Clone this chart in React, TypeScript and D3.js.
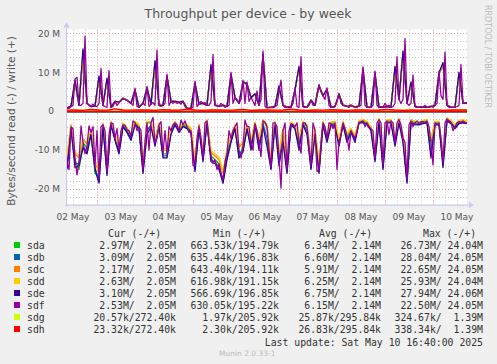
import React from 'react';
import * as d3 from 'd3';

const W = 497;
const H = 364;
const START = Date.UTC(2025, 4, 2, 9);
const END = Date.UTC(2025, 4, 10, 17);

const devices = ['sda', 'sdb', 'sdc', 'sdd', 'sde', 'sdf', 'sdg', 'sdh'];
const colors = ['#00CC00', '#0066B3', '#FF8000', '#FFCC00', '#330099', '#990099', '#CCFF00', '#FF0000'];
const curValues = ['2.97M/  2.05M', '3.09M/  2.05M', '2.17M/  2.05M', '2.63M/  2.05M', '3.10M/  2.05M', '2.53M/  2.05M', '20.57k/272.40k', '23.32k/272.40k'];
const minValues = ['663.53k/194.79k', '635.44k/196.83k', '643.40k/194.11k', '616.98k/191.15k', '566.69k/196.85k', '630.05k/195.22k', '1.97k/205.92k', '2.30k/205.92k'];
const avgValues = ['6.34M/  2.14M', '6.60M/  2.14M', '5.91M/  2.14M', '6.25M/  2.14M', '6.75M/  2.14M', '6.15M/  2.14M', '25.87k/295.84k', '26.83k/295.84k'];
const maxValues = ['26.73M/ 24.04M', '28.04M/ 24.05M', '22.65M/ 24.05M', '25.93M/ 24.04M', '27.94M/ 24.06M', '22.50M/ 24.05M', '324.67k/  1.39M', '338.34k/  1.39M'];
const yTicksMajor = [-20, -10, 0, 10, 20];

// values in M bytes/s; sdf hourly, sda..sde every 2h, sdg/sdh coarser
const sdfWrite = [
  0.8, 0.7, 1.2, 1.5, 8.3, 8.7, 1.5, 1.5, 2, 19.3,
  2, 1.5, 1.2, 1.8, 1.3, 1.2, 2, 11, 1.5, 1.2,
  1, 10.4, 1, 1.2, 2.5, 1.5, 2.2, 2.8, 3.3, 3,
  2.8, 2.5, 2, 1.5, 5.9, 1.2, 1, 1.5, 2, 1.5,
  6.4, 1.2, 1.8, 2.2, 1.5, 15.7, 1.5, 1.2, 1.5, 2,
  9.5, 1.5, 2.5, 2, 2.5, 2, 2.3, 1.8, 2.5, 1.2,
  0.7, 0.6, 0.8, 1, 7.7, 1.2, 1.8, 2.5, 2, 2.2,
  1.5, 1.5, 2.5, 14.6, 1.5, 1.5, 1.2, 2, 1.5, 1,
  1.2, 1.5, 10, 2, 3.5, 3, 2, 3, 8, 2,
  7.5, 2.5, 3.6, 2.5, 1.5, 5.2, 1.5, 3, 15.5, 1.2,
  0.9, 0.9, 1, 0.9, 1.2, 1.5, 5, 8, 1.5, 1,
  1, 1.2, 1, 2, 5.9, 1.2, 1, 14, 1.2, 1,
  1, 1.5, 2.8, 1.5, 1.5, 4.5, 6.9, 5, 4, 3,
  6, 1.5, 1, 1, 1.2, 2.5, 4.6, 2, 1.5, 1.5,
  1.2, 1, 1.5, 1.2, 1, 1, 1.3, 1.5, 11.4, 1.5,
  1, 1, 1, 1.5, 10.3, 1.5, 1, 1.2, 1, 2,
  1.2, 1.5, 1, 1.2, 2, 14, 3, 2, 3, 18.7,
  2, 1.5, 2, 9.3, 1.2, 1, 1, 1.2, 1, 1.5,
  1, 1, 1.2, 1, 1.5, 2, 10.3, 4, 3, 15.2,
  1.5, 1, 1, 1, 1, 1.2, 1.5, 12, 2, 2.2,
  2.1,
];
const sdfRead = [
  -13, -15, -4, -4.5, -12, -16.4, -13, -3.8, -8, -10.9,
  -9, -3.8, -5.5, -4, -14, -5, -17.3, -4, -3.5, -5,
  -15.5, -6, -3, -3.2, -7, -4.5, -10, -5, -3.5, -3.6,
  -4.8, -5, -6.5, -2.5, -3, -5, -4, -5, -15, -8,
  -3, -10, -3, -1.6, -8, -7, -3.5, -2.7, -11, -5,
  -11, -4, -5, -3.5, -3, -3.5, -5, -2.3, -3.5, -2.5,
  -4, -5.5, -5, -14, -14, -7, -3.8, -7, -12, -3,
  -2.5, -8, -11.5, -13.5, -12.5, -15, -13.5, -16, -17.5, -13,
  -11, -5, -7, -5, -4, -3, -10, -12, -9, -2.3,
  -4, -4, -8.3, -10, -3.2, -5, -8, -11.7, -2.5, -2.8,
  -4, -10, -14.3, -3, -3, -4, -12, -19.8, -5, -3,
  -15, -5, -3.2, -3.5, -4, -3, -8, -10.8, -3, -3,
  -4, -9, -13.8, -3, -5, -15.5, -15, -8, -3, -4,
  -7, -3, -3.2, -4.5, -3, -15, -8, -6, -3, -4.5,
  -6.5, -10, -5, -6, -7, -5, -2.8, -2.8, -2.5, -4,
  -3, -4, -4.5, -5, -12, -3, -2.2, -3, -13.8, -3,
  -2.5, -6, -2.5, -3, -8, -3, -2.2, -3.5, -7, -8,
  -17.7, -3.5, -2.5, -4, -3, -2.5, -3.2, -2.7, -2.7, -3,
  -2.5, -4, -8, -13.8, -3, -3.5, -3, -7, -13, -3,
  -2, -2.5, -2.8, -5, -4, -3, -2.7, -3, -2.5, -3,
  -3,
];

const sdaWrite = [0.9, 1.2, 7.5, 1.6, 14, 2.1, 1.3, 1.4, 8.5, 1.6, 8, 1.1, 2.6, 2.2, 3.4, 2.9, 2.1, 5.2, 1.1, 2.1, 5.8, 1.9, 12, 1.6, 1.6, 8.6, 2.6, 2.4, 2.4, 2.6, 0.8, 0.9, 7, 1.9, 2.1, 1.6, 11, 1.6, 1.3, 1.6, 1.3, 9, 3.4, 2.1, 7.2, 6.8, 3.4, 4.2, 1.6, 13.8, 1, 1.1, 1.3, 6, 1.6, 1.1, 1.1, 5.3, 11, 1.3, 1.1, 2.9, 1.6, 6.2, 3.9, 5.4, 1.1, 1.3, 4.1, 1.6, 1.3, 1.6, 1.1, 1.4, 10.2, 1.1, 1.1, 9.3, 1.1, 1.1, 1.3, 1.1, 11, 3.1, 14.5, 2.1, 7.2, 1.3, 1.1, 1.1, 1.1, 1.3, 1.6, 9.4, 12, 1.6, 1.1, 1.1, 9.5, 2.1, 2.2];
const sdbWrite = [0.8, 1.2, 7.8, 1.5, 15.5, 2, 1.2, 1.3, 8.8, 1.5, 8.2, 1, 2.5, 2.2, 3.3, 2.8, 2, 5.6, 1, 2, 6.1, 1.8, 12.5, 1.5, 1.5, 9.1, 2.5, 2.5, 2.3, 2.5, 0.7, 0.8, 7.4, 1.8, 2, 1.5, 11.6, 1.5, 1.2, 1.5, 1.2, 9.6, 3.5, 2, 7.6, 7.1, 3.5, 4.4, 1.5, 14.8, 0.9, 1, 1.2, 6.3, 1.5, 1, 1, 5.6, 11.2, 1.2, 1, 2.8, 1.5, 6.6, 4, 5.7, 1, 1.2, 4.4, 1.5, 1.2, 1.5, 1, 1.3, 11, 1, 1, 9.9, 1, 1, 1.2, 1, 11.2, 3, 15, 2, 7.3, 1.2, 1, 1, 1, 1.2, 1.5, 9.9, 12.2, 1.5, 1, 1, 9.8, 2, 2.1];
const sdcWrite = [0.9, 1.3, 7.2, 1.6, 14.5, 2.1, 1.3, 1.4, 8.6, 1.6, 7.9, 1.1, 2.6, 2.3, 3.3, 2.9, 2.1, 5.3, 1.1, 2.1, 5.9, 1.9, 12.2, 1.6, 1.6, 8.8, 2.6, 2.6, 2.4, 2.6, 0.8, 0.9, 7.1, 1.9, 2.1, 1.6, 11.2, 1.6, 1.3, 1.6, 1.3, 9.2, 3.6, 2.1, 7.3, 6.9, 3.6, 4.3, 1.6, 14, 1, 1.1, 1.3, 6.1, 1.6, 1.1, 1.1, 5.4, 10.8, 1.3, 1.1, 2.9, 1.6, 6.4, 4.1, 5.5, 1.1, 1.3, 4.2, 1.6, 1.3, 1.6, 1.1, 1.4, 10.5, 1.1, 1.1, 9.5, 1.1, 1.1, 1.3, 1.1, 10.8, 3.1, 14.8, 2.1, 7.1, 1.3, 1.1, 1.1, 1.1, 1.3, 1.6, 9.6, 11.8, 1.6, 1.1, 1.1, 9.6, 2.1, 2.2];
const sddWrite = [0.8, 1.2, 7.6, 1.5, 15, 2, 1.2, 1.3, 8.7, 1.5, 8.1, 1, 2.5, 2.2, 3.2, 2.8, 2, 5.4, 1, 2, 6, 1.8, 12.8, 1.5, 1.5, 8.9, 2.5, 2.5, 2.3, 2.5, 0.7, 0.8, 7.3, 1.8, 2, 1.5, 11.8, 1.5, 1.2, 1.5, 1.2, 9.4, 3.5, 2, 7.4, 7, 3.5, 4.4, 1.5, 14.2, 0.9, 1, 1.2, 6.4, 1.5, 1, 1, 5.5, 11.3, 1.2, 1, 2.8, 1.5, 6.5, 4, 5.6, 1, 1.2, 4.3, 1.5, 1.2, 1.5, 1, 1.3, 10.7, 1, 1, 9.7, 1, 1, 1.2, 1, 11.3, 3, 15.2, 2, 7.4, 1.2, 1, 1, 1, 1.2, 1.5, 9.7, 12.3, 1.5, 1, 1, 9.9, 2, 2.1];
const sdeWrite = [0.8, 1.3, 8.0, 1.5, 16, 2, 1.2, 1.3, 9, 1.5, 8.5, 1, 2.5, 2.3, 3.2, 2.8, 2, 5.5, 1, 2, 6, 1.8, 13, 1.5, 1.5, 9, 2.5, 2.5, 2.3, 2.5, 0.7, 0.8, 7.2, 1.8, 2, 1.5, 12, 1.5, 1.2, 1.5, 1.2, 9.5, 3.5, 2, 7.5, 7, 3.5, 4.5, 1.5, 14.5, 0.9, 1, 1.2, 6.5, 1.5, 1, 1, 5.5, 11.5, 1.2, 1, 2.8, 1.5, 6.5, 4, 5.6, 1, 1.2, 4.3, 1.5, 1.2, 1.5, 1, 1.3, 10.8, 1, 1, 9.8, 1, 1, 1.2, 1, 11.5, 3, 15.5, 2, 7.5, 1.2, 1, 1, 1, 1.2, 1.5, 9.8, 12.5, 1.5, 1, 1, 10, 2, 2.1];

const sdaRead = [-13.5, -4, -12.5, -15, -8, -9.5, -5.5, -16, -17, -3.5, -15.5, -3, -7, -10, -3.5, -4.8, -6.5, -3, -4, -15, -3, -3, -8, -3.5, -11, -11, -5, -3, -5, -3.5, -4, -5, -14, -3.8, -12, -2.5, -11.5, -12.5, -13.5, -18.5, -11, -7, -4, -12, -9, -4, -8.3, -3.2, -8, -2.5, -4, -14.3, -3, -12, -5, -15, -3.2, -4, -8, -3, -4, -13.8, -5, -15, -3, -7, -3.2, -3, -8, -3, -6.5, -5, -7, -2.8, -2.5, -3, -4.5, -12, -2.2, -13.8, -2.5, -2.5, -8, -2.2, -7, -17.7, -2.5, -3, -3.2, -2.7, -2.5, -8, -3, -3, -13, -2, -2.8, -4, -2.7, -2.5, -3];
const sdbRead = [-14.5, -4.3, -13.5, -13.5, -9, -10.5, -5.8, -14.5, -18, -3.8, -16, -3.3, -7.3, -10.5, -3.8, -5.2, -7, -3.3, -4.3, -15.5, -5, -3.5, -8.5, -3.8, -11.5, -11.5, -5.5, -3.3, -5.3, -3.8, -4.3, -5.3, -15, -4.2, -12.5, -2.8, -12.5, -13, -14.5, -18, -12, -7.5, -4.3, -11, -10, -4.3, -9, -3.4, -9, -3.2, -7, -14.7, -3.3, -13, -5.5, -15.5, -3.4, -4.3, -9, -3.3, -5, -14.5, -5.5, -15.5, -3.3, -7.5, -3.4, -3.5, -8.5, -3.3, -7.3, -5.3, -7.5, -3, -2.8, -3.3, -4.8, -12.5, -2.5, -14.5, -2.8, -2.8, -8.5, -2.6, -7.5, -18, -2.8, -3.3, -3.4, -3, -2.8, -11, -3.3, -3.3, -13.8, -2.3, -3, -4.3, -3, -2.8, -3.1];
const sdcRead = [-12, -3.6, -11, -12, -7.3, -8.3, -5, -13, -16, -3.2, -14.3, -2.7, -6.4, -9.2, -3.2, -4.4, -6, -2.7, -3.6, -13.8, -2.7, -2.7, -7.3, -3.2, -10, -10, -4.6, -2.7, -4.6, -3.2, -3.6, -4.6, -12.8, -3.5, -11, -2.3, -10.6, -11.5, -12.4, -16, -10, -6.4, -3.6, -9.2, -8.3, -3.6, -7.6, -2.9, -7.3, -2.3, -3.6, -13.1, -2.7, -11, -4.6, -13.8, -2.9, -3.6, -7.3, -2.7, -3.6, -12.7, -4.6, -13.8, -2.7, -6.4, -2.9, -2.7, -7.3, -2.7, -6, -4.6, -6.4, -2.5, -2.3, -2.7, -4.1, -11, -2, -12.7, -2.3, -2.3, -7.3, -2, -6.4, -16.3, -2.3, -2.7, -2.9, -2.5, -2.3, -7.3, -2.7, -2.7, -12, -1.8, -2.5, -3.6, -2.5, -2.3, -2.7];
const sddRead = [-11.5, -3.4, -10.5, -11.5, -7, -8, -4.8, -12.5, -15.5, -3, -13.5, -2.6, -6.2, -8.8, -3, -4.2, -5.8, -2.6, -3.4, -13.2, -2.6, -2.6, -7, -3, -9.6, -9.7, -4.4, -2.6, -4.4, -3, -3.4, -4.4, -12.3, -3.3, -10.5, -2.2, -10, -11, -11.8, -15.4, -9.6, -6.1, -3.5, -8.8, -7.9, -3.5, -7.3, -2.8, -7, -2.2, -3.5, -12.6, -2.6, -10.6, -4.4, -13.2, -2.8, -3.5, -7, -2.6, -3.5, -12.2, -4.4, -13.2, -2.6, -6.2, -2.8, -2.6, -7, -2.6, -5.7, -4.4, -6.2, -2.4, -2.2, -2.6, -4, -10.6, -1.9, -12.2, -2.2, -2.2, -7, -1.9, -6.2, -15.6, -2.2, -2.6, -2.8, -2.4, -2.2, -7, -2.6, -2.6, -11.5, -1.7, -2.4, -3.5, -2.4, -2.2, -2.6];
const sdeRead = [-15, -4.5, -14.5, -14, -9.5, -11, -6, -15, -18.5, -4, -16.5, -3.5, -7.5, -11, -4, -5.5, -7.5, -3.5, -4.5, -16, -6, -4, -9, -4, -12, -12, -6, -3.5, -5.5, -4, -4.5, -5.5, -15.5, -4.5, -13, -3, -13, -13.5, -15, -18.5, -12.5, -8, -4.5, -12, -10.5, -4.5, -10, -3.5, -10, -4, -9, -15, -3.5, -14, -8, -16, -3.5, -4.5, -10, -3.5, -6, -15, -6, -16, -3.5, -8, -3.5, -4, -9, -3.5, -8, -5.5, -8, -3, -3, -3.5, -5, -13, -2.8, -15, -3, -3, -9, -3, -8, -18.5, -3, -3.5, -3.5, -3.2, -3, -12, -3.5, -3.5, -14.5, -2.5, -3.2, -4.5, -3.2, -3, -3.2];

const sdgWrite = [0.2, 0.28, 0.22, 0.4, 0.28, 0.22, 0.55, 0.28, 0.22, 0.32, 0.28, 0.2, 0.36, 0.28, 0.22, 0.45, 0.28, 0.2, 0.32, 0.28, 0.22, 0.28, 0.4, 0.2, 0.28, 0.32, 0.22, 0.28, 0.45, 0.28, 0.2, 0.28, 0.22, 0.36, 0.28, 0.2, 0.32, 0.28, 0.22, 0.28, 0.4, 0.28, 0.2, 0.28, 0.22, 0.32, 0.28, 0.2, 0.28, 0.32, 0.27];
const sdhWrite = [0.25, 0.3, 0.2, 0.45, 0.3, 0.25, 0.6, 0.3, 0.25, 0.35, 0.3, 0.2, 0.4, 0.3, 0.25, 0.5, 0.3, 0.2, 0.35, 0.3, 0.25, 0.3, 0.45, 0.2, 0.3, 0.35, 0.25, 0.3, 0.5, 0.3, 0.2, 0.3, 0.25, 0.4, 0.3, 0.2, 0.35, 0.3, 0.25, 0.3, 0.45, 0.3, 0.2, 0.3, 0.25, 0.35, 0.3, 0.2, 0.3, 0.35, 0.3];
const sdgRead = [-0.02, -0.03, -0.02, -0.03, -0.02, -0.02, -0.03, -0.02, -0.04, -0.03, -0.02, -0.03, -0.02, -0.03, -0.03, -0.02, -0.03, -0.02, -0.03, -0.02, -0.03, -0.03, -0.02, -0.03, -0.02, -0.02];
const sdhRead = [-0.02, -0.03, -0.02, -0.04, -0.03, -0.02, -0.03, -0.02, -0.05, -0.03, -0.02, -0.03, -0.02, -0.03, -0.04, -0.02, -0.03, -0.02, -0.03, -0.02, -0.04, -0.03, -0.02, -0.03, -0.02, -0.02];

const seriesWrite = [sdaWrite, sdbWrite, sdcWrite, sddWrite, sdeWrite, sdfWrite, sdgWrite, sdhWrite];
const seriesRead = [sdaRead, sdbRead, sdcRead, sddRead, sdeRead, sdfRead, sdgRead, sdhRead];

const PL = 67, PR = 467, PT = 29.5, PB = 204.5;

export default function App() {
  const x = d3.scaleUtc().domain([START, END]).range([PL, PR]);
  const y = d3.scaleLinear().domain([-24e6, 21e6]).range([PB, PT]);

  const lineFor = (arr: number[]) => {
    const step = ((END - START) / (arr.length - 1));
    return d3.line<number>()
      .x((_, i) => x(START + i * step))
      .y((d) => y(d * 1e6))(arr) || '';
  };

  const minorX = d3.utcHour.every(6)!.range(new Date(START), new Date(END + 1));
  const majorX = d3.utcDay.range(new Date(START), new Date(END + 1));
  const labelDays = d3.utcDay.range(new Date(Date.UTC(2025, 4, 2)), new Date(Date.UTC(2025, 4, 11))).map((d) => d3.utcHour.offset(d, 12));
  const minorY = d3.range(-24e6, 21e6 + 1, 2e6);
  const fmtDay = d3.utcFormat('%d %b');

  const axisColor = '#C8C8F0';
  const textColor = '#555';
  const legendTop = 233;
  const rowH = 12;
  const mono = "'DejaVu Sans Mono', monospace";
  const sans = "'DejaVu Sans', sans-serif";

  return (
    <svg width={W} height={H} style={{ position: 'absolute', left: 0, top: 0, background: '#F0F0F0' }} xmlns="http://www.w3.org/2000/svg">
      <rect x={0} y={0} width={W} height={H} fill="#F0F0F0" />
      <text x={248} y={18} textAnchor="middle" fontFamily={sans} fontSize={12.5} fill="#555">Throughput per device - by week</text>
      <text transform={`translate(485,5) rotate(90)`} fontFamily={sans} fontSize={8} fill="#BBB">RRDTOOL / TOBI OETIKER</text>
      <text transform={`translate(15,121) rotate(-90)`} textAnchor="middle" fontFamily={sans} fontSize={10.5} fill={textColor}>Bytes/second read (-) / write (+)</text>

      <rect x={PL} y={PT} width={PR - PL} height={PB - PT} fill="#FFFFFF" />
      <defs>
        <clipPath id="plotclip"><rect x={PL} y={PT - 1} width={PR - PL + 1} height={PB - PT + 1} /></clipPath>
      </defs>
      {minorY.map((v) => (
        <line key={'my' + v} x1={PL} x2={PR} y1={Math.round(y(v)) + 0.5} y2={Math.round(y(v)) + 0.5} stroke="#C8C8C8" strokeDasharray="1,2" strokeWidth={1} />
      ))}
      {minorX.map((d) => (
        <line key={'mx' + +d} x1={Math.round(x(d)) + 0.5} x2={Math.round(x(d)) + 0.5} y1={PT} y2={PB} stroke="#C8C8C8" strokeDasharray="1,2" strokeWidth={1} />
      ))}
      {yTicksMajor.map((v) => (
        <line key={'My' + v} x1={PL} x2={PR} y1={Math.round(y(v * 1e6)) + 0.5} y2={Math.round(y(v * 1e6)) + 0.5} stroke="#F4A0A0" strokeDasharray="1,2" strokeWidth={1} />
      ))}
      {majorX.map((d) => (
        <line key={'Mx' + +d} x1={Math.round(x(d)) + 0.5} x2={Math.round(x(d)) + 0.5} y1={PT} y2={PB} stroke="#F4A0A0" strokeDasharray="1,2" strokeWidth={1} />
      ))}

      <line x1={PL} x2={PR} y1={y(0) + 0.9} y2={y(0) + 0.9} stroke="#000" strokeWidth={1} />
      <g clipPath="url(#plotclip)" fill="none" strokeWidth={1.3} strokeLinejoin="round">
        {devices.map((name, k) => (
          <g key={name}>
            <path d={lineFor(seriesRead[k])} stroke={colors[k]} />
            <path d={lineFor(seriesWrite[k])} stroke={colors[k]} />
          </g>
        ))}
      </g>

      {/* axes */}
      <line x1={PL - 0.5} x2={PL - 0.5} y1={PT - 2} y2={PB + 2} stroke={axisColor} strokeWidth={1} />
      <line x1={PL - 2} x2={PR + 2} y1={PB + 0.5} y2={PB + 0.5} stroke={axisColor} strokeWidth={1} />
      <path d={`M${PL - 3.5},${PT - 2} L${PL + 2.5},${PT - 2} L${PL - 0.5},${PT - 7} Z`} fill={axisColor} />
      <path d={`M${PR + 2},${PB - 2.5} L${PR + 2},${PB + 3.5} L${PR + 7},${PB + 0.5} Z`} fill={axisColor} />

      {yTicksMajor.map((v) => (
        <text key={'yl' + v} x={v === 0 ? 54 : 60} y={y(v * 1e6) + 3.3} textAnchor="end" fontFamily={sans} fontSize={9} fill={textColor}>
          {v === 0 ? '0' : `${v} M`}
        </text>
      ))}
      {labelDays.map((d) => (
        <text key={'xl' + +d} x={x(d)} y={220} textAnchor="middle" fontFamily={sans} fontSize={9} fill={textColor}>{fmtDay(d)}</text>
      ))}

      {/* legend */}
      <g fontFamily={mono} fontSize={9.8} fill="#333" style={{ whiteSpace: 'pre' }}>
        <text x={108} y={legendTop + 3.5} xmlSpace="preserve">Cur (-/+)</text>
        <text x={213} y={legendTop + 3.5} xmlSpace="preserve">Min (-/+)</text>
        <text x={319} y={legendTop + 3.5} xmlSpace="preserve">Avg (-/+)</text>
        <text x={423} y={legendTop + 3.5} xmlSpace="preserve">Max (-/+)</text>
        {devices.map((name, k) => {
          const cy = legendTop + rowH * (k + 1);
          return (
            <g key={'lg' + name}>
              <rect x={14} y={cy - 3} width={6} height={6} fill={colors[k]} />
              <text x={27} y={cy + 3.5}>{name}</text>
              <text x={176} y={cy + 3.5} textAnchor="end" xmlSpace="preserve">{curValues[k]}</text>
              <text x={279} y={cy + 3.5} textAnchor="end" xmlSpace="preserve">{minValues[k]}</text>
              <text x={381} y={cy + 3.5} textAnchor="end" xmlSpace="preserve">{avgValues[k]}</text>
              <text x={483} y={cy + 3.5} textAnchor="end" xmlSpace="preserve">{maxValues[k]}</text>
            </g>
          );
        })}
        <text x={483} y={345.5} textAnchor="end" xmlSpace="preserve">Last update: Sat May 10 16:40:00 2025</text>
      </g>
      <text x={219} y={356} fontFamily={sans} fontSize={7.5} fill="#BBB">Munin 2.0.33-1</text>
    </svg>
  );
}
